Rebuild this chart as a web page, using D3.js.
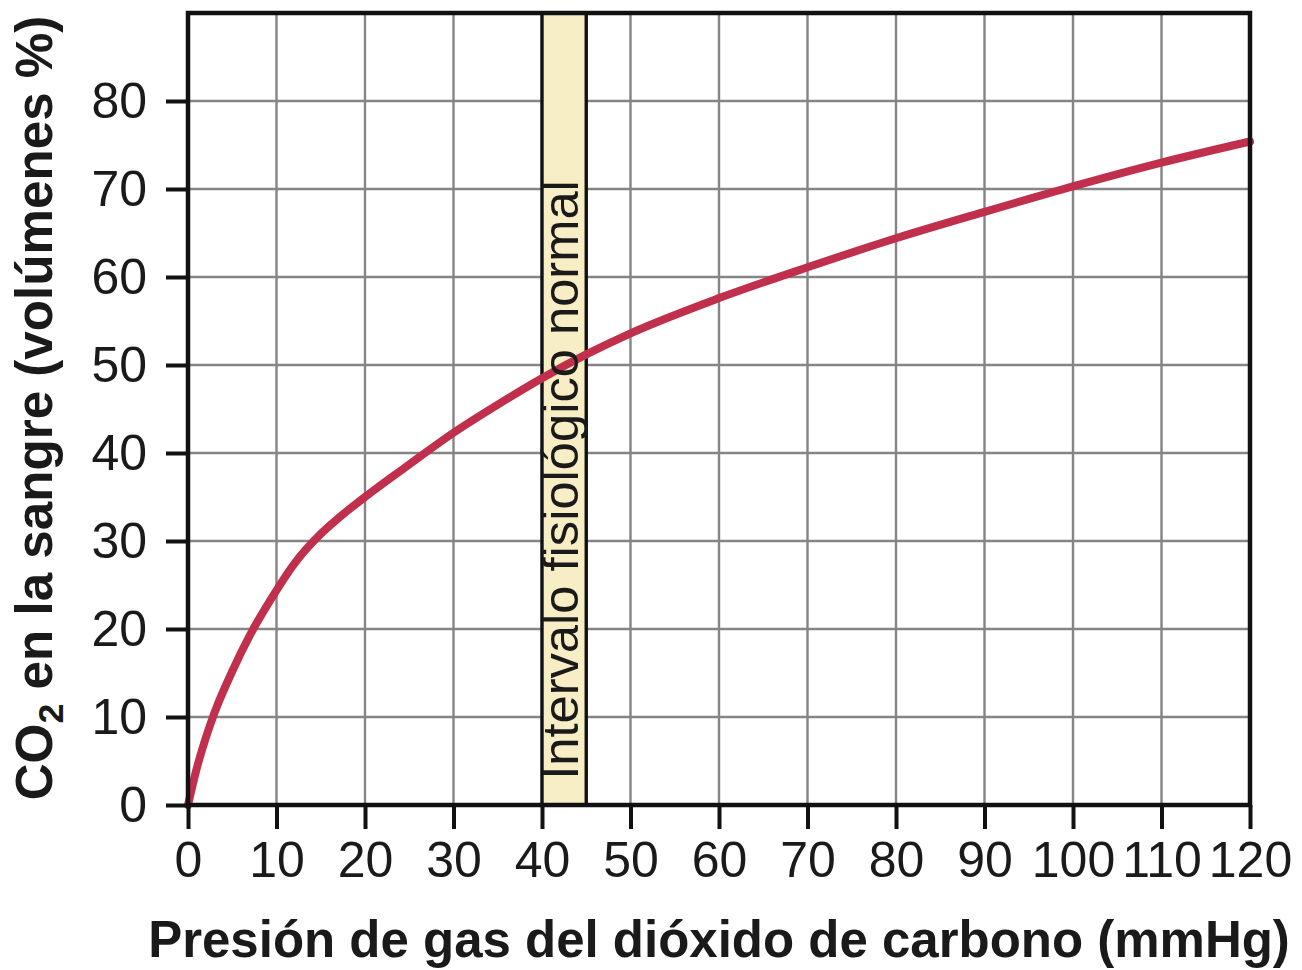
<!DOCTYPE html>
<html>
<head>
<meta charset="utf-8">
<script src="https://cdn.jsdelivr.net/npm/d3@7"></script>
<style>
  html, body { margin: 0; padding: 0; background: #ffffff; }
  svg { display: block; }
  text { font-family: "Liberation Sans", Arial, Helvetica, sans-serif; fill: #1a1a1a; }
</style>
</head>
<body>
<svg id="chart" width="1302" height="970"></svg>
<script>
// ---- Data ----
const pco2 = [0, 1, 2, 3, 5, 7, 10, 12, 15, 17, 20, 25, 30, 35, 40, 45, 50, 60, 70, 80, 90, 100, 110, 120];
const co2Content = [0, 4.2, 7.6, 10.5, 15.2, 19.3, 24.4, 27.4, 30.8, 32.6, 35, 38.7, 42.3, 45.5, 48.5, 51.2, 53.6, 57.6, 61.1, 64.4, 67.4, 70.3, 73, 75.4];
const xTicks = [0, 10, 20, 30, 40, 50, 60, 70, 80, 90, 100, 110, 120];
const yTicks = [0, 10, 20, 30, 40, 50, 60, 70, 80];
const normalRange = [40, 45];
const xDomain = [0, 120];
const yDomain = [0, 90];
const xTitle = "Presión de gas del dióxido de carbono (mmHg)";
const yTitleParts = ["CO", "2", " en la sangre (volúmenes %)"];
const bandLabel = "Intervalo fisiológico normal";

// ---- Layout ----
const svg = d3.select("#chart");
const m = { left: 188, top: 13, right: 1250, bottom: 805 };
const x = d3.scaleLinear().domain(xDomain).range([m.left, m.right]);
const y = d3.scaleLinear().domain(yDomain).range([m.bottom, m.top]);

function fit(el, target) {
  const w = el.node().getComputedTextLength();
  const fs = parseFloat(el.style("font-size"));
  el.style("font-size", (fs * target / w) + "px");
}

// Grid
const grid = svg.append("g");
grid.selectAll("line.gx").data(xTicks.filter(d => d > xDomain[0] && d < xDomain[1])).join("line")
  .attr("x1", d => x(d)).attr("x2", d => x(d))
  .attr("y1", m.top).attr("y2", m.bottom)
  .attr("stroke", "#858585").attr("stroke-width", 2.4);
grid.selectAll("line.gy").data(yTicks.filter(d => d > yDomain[0])).join("line")
  .attr("x1", m.left).attr("x2", m.right)
  .attr("y1", d => y(d)).attr("y2", d => y(d))
  .attr("stroke", "#858585").attr("stroke-width", 2.4);

// Normal range band
const band = svg.append("g");
band.append("rect")
  .attr("x", x(normalRange[0])).attr("y", m.top)
  .attr("width", x(normalRange[1]) - x(normalRange[0]))
  .attr("height", m.bottom - m.top)
  .attr("fill", "#f8eec5");
normalRange.forEach(v => {
  band.append("line")
    .attr("x1", x(v)).attr("x2", x(v))
    .attr("y1", m.top).attr("y2", m.bottom)
    .attr("stroke", "#111").attr("stroke-width", 3.4);
});

// Curve
const line = d3.line().x((d, i) => x(pco2[i])).y(d => y(d)).curve(d3.curveMonotoneX);
svg.append("path")
  .datum(co2Content)
  .attr("d", line)
  .attr("fill", "none")
  .attr("stroke", "#c02f4b")
  .attr("stroke-width", 8)
  .attr("stroke-linecap", "round");

// Band label
const bx = (x(normalRange[0]) + x(normalRange[1])) / 2;
const bl = svg.append("text")
  .attr("transform", `translate(${bx + 14},480) rotate(-90)`)
  .attr("text-anchor", "middle")
  .style("font-size", "44px")
  .text(bandLabel);
fit(bl, 600);

// Axes
const xAxis = d3.axisBottom(x).tickValues(xTicks).tickSize(24).tickPadding(12).tickFormat(d3.format("d"));
const yAxis = d3.axisLeft(y).tickValues(yTicks).tickSize(22).tickPadding(19).tickFormat(d3.format("d"));
const gx = svg.append("g").attr("transform", `translate(0,${m.bottom})`).call(xAxis);
const gy = svg.append("g").attr("transform", `translate(${m.left},0)`).call(yAxis);
[gx, gy].forEach(g => {
  g.select(".domain").remove();
  g.selectAll(".tick line").attr("stroke", "#111").attr("stroke-width", 4);
  g.selectAll(".tick text").style("font-size", "50px").attr("fill", "#1a1a1a")
    .style("font-family", '"Liberation Sans", Arial, Helvetica, sans-serif');
});
gx.selectAll(".tick text").attr("dy", "0.71em");

// Frame
svg.append("rect")
  .attr("x", m.left).attr("y", m.top)
  .attr("width", m.right - m.left).attr("height", m.bottom - m.top)
  .attr("fill", "none").attr("stroke", "#111").attr("stroke-width", 4.5);

// Axis titles
const xt = svg.append("text")
  .attr("x", 719).attr("y", 957)
  .attr("text-anchor", "middle")
  .style("font-size", "44px").style("font-weight", "bold")
  .text(xTitle);
fit(xt, 1142);

const yt = svg.append("text")
  .attr("transform", "translate(52,408) rotate(-90)")
  .attr("text-anchor", "middle")
  .style("font-size", "44px").style("font-weight", "bold");
yt.append("tspan").text(yTitleParts[0]);
yt.append("tspan").attr("baseline-shift", "-30%").style("font-size", "0.7em").text(yTitleParts[1]);
yt.append("tspan").text(yTitleParts[2]);
fit(yt, 785);
</script>
</body>
</html>
